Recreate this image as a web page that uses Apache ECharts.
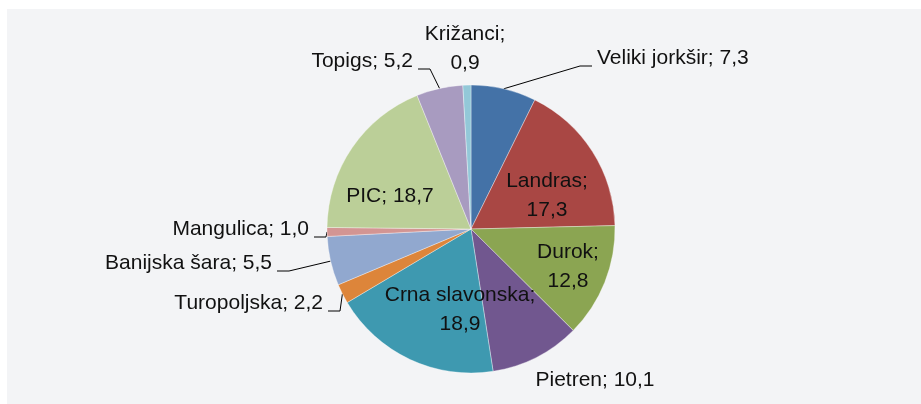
<!DOCTYPE html>
<html>
<head>
<meta charset="utf-8">
<script src="https://cdn.jsdelivr.net/npm/echarts@6/dist/echarts.min.js"></script>
<style>
  html, body { margin: 0; padding: 0; background: #fff; }
  .wrap { position: relative; width: 921px; height: 404px; }
  .panel { position: absolute; left: 7px; top: 9px; right: 0; bottom: 0; background: #f3f4f6; }
  #chart { position: absolute; left: 0; top: 0; width: 921px; height: 404px; }
</style>
</head>
<body>
<div class="wrap">
  <div class="panel"></div>
  <div id="chart"></div>
</div>
<script>
// udio pasmina (%)
const breeds = ['Veliki jorkšir', 'Landras', 'Durok', 'Pietren', 'Crna slavonska', 'Turopoljska',
  'Banijska šara', 'Mangulica', 'PIC', 'Topigs', 'Križanci'];
const shares = [7.3, 17.3, 12.8, 10.1, 18.9, 2.2, 5.5, 1.0, 18.7, 5.2, 0.9];
const colors = ['#4472a7', '#a94744', '#8ba552', '#71578f', '#3e99b0', '#dd853a',
  '#91a8cf', '#d39593', '#bbcf98', '#a89bc0', '#93c8d8'];

// where each label sits (layout only)
const labelPos = {
  'Veliki jorkšir': { x: 597, y: 58, align: 'left', line: true },
  'Landras': { x: 547, y: 196, align: 'center', wrap: true },
  'Durok': { x: 568, y: 267, align: 'center', wrap: true },
  'Pietren': { x: 595, y: 380, align: 'center' },
  'Crna slavonska': { x: 460, y: 310, align: 'center', wrap: true },
  'Turopoljska': { x: 323, y: 303, align: 'right', line: true },
  'Banijska šara': { x: 272, y: 263, align: 'right', line: true },
  'Mangulica': { x: 309, y: 229, align: 'right', line: true },
  'PIC': { x: 390, y: 196, align: 'center' },
  'Topigs': { x: 413, y: 61, align: 'right', line: true },
  'Križanci': { x: 465, y: 49, align: 'center', wrap: true }
};

const fmt = v => v.toFixed(1).replace('.', ',');

const chart = echarts.init(document.getElementById('chart'));
chart.setOption({
  animation: false,
  series: [{
    type: 'pie',
    center: [471, 229],
    radius: 144,
    startAngle: 90,
    clockwise: true,
    avoidLabelOverlap: false,
    itemStyle: { borderColor: 'rgba(255,255,255,0.7)', borderWidth: 0.5 },
    emphasis: { disabled: true },
    label: {
      show: true,
      position: 'outside',
      fontFamily: 'Liberation Sans, Arial, sans-serif',
      fontSize: 21,
      lineHeight: 29,
      color: '#111',
      formatter: p => p.name + ';' + (labelPos[p.name].wrap ? '\n' : ' ') + fmt(p.value)
    },
    labelLine: { show: true, lineStyle: { color: '#000', width: 1 } },
    labelLayout: function (params) {
      const p = labelPos[breeds[params.dataIndex]];
      const out = { x: p.x, y: p.y, align: p.align, verticalAlign: 'middle' };
      if (p.line && params.labelLinePoints) {
        const start = params.labelLinePoints[0];
        const side = p.align === 'left' ? -1 : 1;
        const ly = p.y + 8;
        out.labelLinePoints = [start, [p.x + side * 17, ly], [p.x + side * 5, ly]];
      }
      return out;
    },
    data: breeds.map((name, i) => ({
      name: name,
      value: shares[i],
      itemStyle: { color: colors[i] },
      labelLine: { show: !!labelPos[name].line }
    }))
  }]
});
</script>
</body>
</html>
